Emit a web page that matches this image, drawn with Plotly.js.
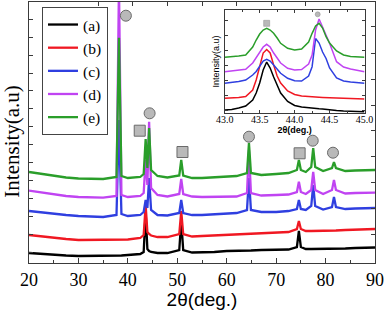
<!DOCTYPE html>
<html>
<head>
<meta charset="utf-8">
<script src="https://cdn.plot.ly/plotly-3.0.1.min.js"></script>
<style>html,body{margin:0;padding:0;background:#fff;}#chart{width:387px;height:310px;}</style>
</head>
<body>
<div id="chart"></div>
<script>
// ---- Main pattern: 2θ (deg.) and intensities (a.u., offset stacked) ----
var twoTheta = [20, 22.5, 25, 27.5, 30, 32.5, 35, 37.7, 38.2, 38.7, 40, 42.5, 43.2, 43.6, 43.95, 44.3, 44.7, 46, 48, 50.4, 50.8, 51.2, 53, 55, 57.5, 60, 62, 64.1, 64.5, 64.9, 67, 70, 72.5, 74.2, 74.6, 75.0, 76, 77.1, 77.5, 77.9, 79.5, 81.3, 81.7, 82.1, 84, 86, 88, 90];
var seriesA = [10, 9, 8, 7.5, 7, 7, 7, 7.5, 7.5, 7.5, 8, 9, 11, 51, 14, 12, 11, 10, 10, 13, 42, 13, 10.5, 10.5, 11, 12, 12, 12.5, 12.5, 12.5, 13, 13, 13.5, 16, 32, 16, 14, 14, 14, 14, 14, 14, 14, 14, 14.5, 15, 15, 15.5];
var seriesB = [28, 26.5, 25, 24, 23, 23, 23, 23, 23, 23, 23.5, 25, 28, 58, 31, 29, 27.5, 26, 26, 29, 52, 29, 26.5, 27, 27.5, 28, 28.5, 29, 29, 29, 29.5, 30, 31, 34, 42, 34, 32, 32, 32, 32, 32.5, 32.5, 32.5, 32.5, 33, 33.5, 33.5, 34];
var seriesC = [52, 50.5, 49, 48, 47, 46.5, 46, 48, 143, 49, 47, 48, 51, 63, 55, 85, 53, 48, 47.5, 50, 63, 50, 48, 48, 48.5, 49.5, 50, 53, 85, 53, 51, 51, 52, 54, 63, 54, 53, 57, 78, 57, 53.5, 56, 66, 56, 54, 54.5, 55, 55];
var seriesD = [72.3, 70.5, 68.5, 67, 66, 65.5, 65.3, 67, 278, 68, 66, 67, 70, 103, 78, 141.3, 75, 68, 66.5, 69, 84, 69, 66.5, 66, 66, 66, 66.5, 70, 113, 70, 67.5, 68, 68.5, 71, 81.3, 71, 69, 73, 91, 73, 69, 73, 83, 73, 69.5, 70, 70, 70.3];
var seriesE = [91, 89, 87, 85.5, 84.5, 84, 84, 86, 225.3, 87, 85, 86, 89, 124, 95, 135, 93, 87, 85.5, 87.5, 103, 87.5, 85, 85, 85.5, 86.3, 87, 90, 120, 90, 88, 89, 90, 93, 103, 93, 91, 96, 115, 96, 92, 95, 101, 95, 92, 92.5, 93, 93];
var seriesNames = ['(a)', '(b)', '(c)', '(d)', '(e)'];

// ---- Phase markers in main plot ----
var circleX = [39.6, 44.4, 64.5, 77.4, 81.5];
var circleY = [247.3, 149.7, 126.3, 122.3, 110.3];
var squareX = [42.4, 51.05, 74.75];
var squareY = [132.3, 111, 109.7];

// ---- Inset (43-45 deg) ----
var insetTheta = [43.0, 43.1, 43.2, 43.3, 43.4, 43.45, 43.5, 43.55, 43.6, 43.65, 43.7, 43.75, 43.8, 43.9, 44.0, 44.1, 44.2, 44.25, 44.3, 44.35, 44.4, 44.45, 44.5, 44.6, 44.7, 44.8, 44.9, 45.0];
var insetA = [3, 3.5, 5, 7, 13, 20, 30, 43, 51, 45, 36, 27, 20, 11.5, 7.5, 6, 5, 4.7, 4.5, 4.2, 4, 3.5, 3, 2.5, 2, 1.7, 1.5, 1.3];
var insetB = [14.7, 15, 15.5, 16.5, 23, 33, 46, 60, 63.5, 60, 48, 37, 30, 22, 18.5, 17, 16.5, 16, 15.7, 15.7, 15.5, 15.5, 15.3, 15, 14.7, 14.5, 14.2, 14];
var insetC = [29.7, 30.5, 31.5, 33, 38, 41.5, 47, 52, 53.7, 52, 48, 44, 39.7, 34.7, 32.3, 32, 37, 46.3, 74.5, 70, 61, 54.5, 45, 35, 32, 31, 30, 29.7];
var insetD = [41.3, 42, 42.5, 43.7, 50, 55, 60, 66, 68.7, 66, 60, 55, 50, 44.7, 43, 43.5, 49, 58, 83, 94, 86.3, 78, 69.7, 51.3, 46, 44, 42.5, 41.3];
var insetE = [55.7, 56, 57, 58, 66, 73, 79, 83, 84.7, 83, 79.7, 75, 69.7, 64.7, 63, 64, 71, 79.7, 87, 89.7, 85, 76.3, 70, 62, 58, 56.5, 56, 55.7];
var insetCircleX = [44.33], insetCircleY = [98.7];
var insetSquareX = [43.6], insetSquareY = [89.7];

var xTicks = [20, 30, 40, 50, 60, 70, 80, 90];
var insetTicks = [43.0, 43.5, 44.0, 44.5, 45.0];

var colors = ['#000000', '#f01822', '#2f3fe0', '#c044f2', '#2a9e2a'];
var mainSeries = [seriesA, seriesB, seriesC, seriesD, seriesE];
var insetSeries = [insetA, insetB, insetC, insetD, insetE];

var traces = [];
mainSeries.forEach(function (s, i) {
  traces.push({x: twoTheta, y: s, type: 'scatter', mode: 'lines', name: seriesNames[i],
    line: {color: colors[i], width: 2.3}, xaxis: 'x', yaxis: 'y', hoverinfo: 'skip'});
});
insetSeries.forEach(function (s, i) {
  traces.push({x: insetTheta, y: s, type: 'scatter', mode: 'lines', showlegend: false,
    line: {color: colors[i], width: 1.5}, xaxis: 'x2', yaxis: 'y2', hoverinfo: 'skip'});
});
var mk = {color: '#b9b9b9', line: {color: '#6a6a6a', width: 1}};
traces.push({x: circleX, y: circleY, mode: 'markers', showlegend: false, hoverinfo: 'skip',
  marker: Object.assign({symbol: 'circle', size: 11}, mk), cliponaxis: false});
traces.push({x: squareX, y: squareY, mode: 'markers', showlegend: false, hoverinfo: 'skip',
  marker: Object.assign({symbol: 'square', size: 11}, mk), cliponaxis: false});
traces.push({x: insetCircleX, y: insetCircleY, mode: 'markers', showlegend: false, hoverinfo: 'skip',
  marker: Object.assign({symbol: 'circle', size: 5}, {color: '#b9b9b9', line: {color: '#8a8a8a', width: 0.5}}),
  xaxis: 'x2', yaxis: 'y2', cliponaxis: false});
traces.push({x: insetSquareX, y: insetSquareY, mode: 'markers', showlegend: false, hoverinfo: 'skip',
  marker: Object.assign({symbol: 'square', size: 6}, {color: '#b9b9b9', line: {color: '#8a8a8a', width: 0.5}}),
  xaxis: 'x2', yaxis: 'y2', cliponaxis: false});
// carrier for the mirrored tick axes
traces.push({x: [], y: [], xaxis: 'x3', yaxis: 'y3', showlegend: false, hoverinfo: 'skip'});

var serif = 'Liberation Serif, Times New Roman, serif';
var sans = 'Liberation Sans, Arial, sans-serif';
var axLine = '#3a3a3a';

var layout = {
  width: 387, height: 310,
  margin: {l: 29, r: 11.5, t: 2, b: 47},
  paper_bgcolor: '#ffffff', plot_bgcolor: '#ffffff',
  showlegend: true,
  legend: {x: 0.0375, y: 0.981, xanchor: 'left', yanchor: 'top', bgcolor: '#ffffff',
    bordercolor: '#444', borderwidth: 1, font: {family: serif, size: 15.5, color: '#000'},
    tracegroupgap: 0, itemwidth: 30},
  annotations: [{text: 'Intensity(a.u)', xref: 'paper', yref: 'paper', x: -0.049, y: 0.465,
    xanchor: 'center', yanchor: 'middle', textangle: -90, showarrow: false,
    font: {family: serif, size: 21, color: '#000'}}],
  xaxis: {range: [20, 90], tickvals: xTicks, ticks: 'inside', ticklen: 5, tickcolor: axLine,
    minor: {dtick: 5, ticks: 'inside', ticklen: 3, tickcolor: axLine},
    showline: true, linecolor: axLine, linewidth: 1, mirror: true, showgrid: false, zeroline: false,
    tickfont: {family: serif, size: 18, color: '#000'},
    title: {text: '2θ(deg.)', font: {family: sans, size: 19, color: '#000'}, standoff: 4}},
  yaxis: {range: [0, 261], tick0: 11, dtick: 17.9, ticks: 'inside', ticklen: 4, tickcolor: axLine,
    showticklabels: false, showline: true, linecolor: axLine, linewidth: 1, mirror: true,
    showgrid: false, zeroline: false},
  xaxis3: {overlaying: 'x', side: 'top', range: [0, 1], tickvals: [0.2, 0.3, 0.4, 0.5, 0.6, 0.7, 0.8, 0.9],
    ticks: 'inside', ticklen: 4, tickcolor: axLine, showticklabels: false, showgrid: false, zeroline: false, showline: false},
  yaxis3: {overlaying: 'y', side: 'right', range: [0, 261], tickvals: [28.7, 54.7, 80.3, 106.3, 132.3, 158, 184, 209.7, 236.3],
    ticks: 'inside', ticklen: 4, tickcolor: axLine, showticklabels: false, showgrid: false, zeroline: false, showline: false},
  xaxis2: {domain: [0.5657, 0.9697], anchor: 'y2', range: [43, 45], tickvals: insetTicks, tickformat: '.1f',
    ticks: 'inside', ticklen: 3, tickcolor: axLine, minor: {dtick: 0.25, ticks: 'inside', ticklen: 2, tickcolor: axLine},
    showline: true, linecolor: axLine, linewidth: 1, mirror: 'ticks', showgrid: false, zeroline: false,
    ticklabelstandoff: -3,
    tickfont: {family: serif, size: 10, color: '#000'},
    title: {text: '2θ(deg.)', font: {family: sans, size: 9, color: '#000', weight: 'bold'}, standoff: 0}},
  yaxis2: {domain: [0.5747, 0.9693], anchor: 'x2', range: [0, 103], tick0: 3, dtick: 15,
    ticks: 'inside', ticklen: 3, tickcolor: axLine, showticklabels: false,
    showline: true, linecolor: axLine, linewidth: 1, mirror: 'ticks', showgrid: false, zeroline: false,
    title: {text: 'Intensity(a.u)', font: {family: sans, size: 9, color: '#000'}, standoff: 2}}
};

Plotly.newPlot('chart', traces, layout, {staticPlot: true, displayModeBar: false});
</script>
</body>
</html>
